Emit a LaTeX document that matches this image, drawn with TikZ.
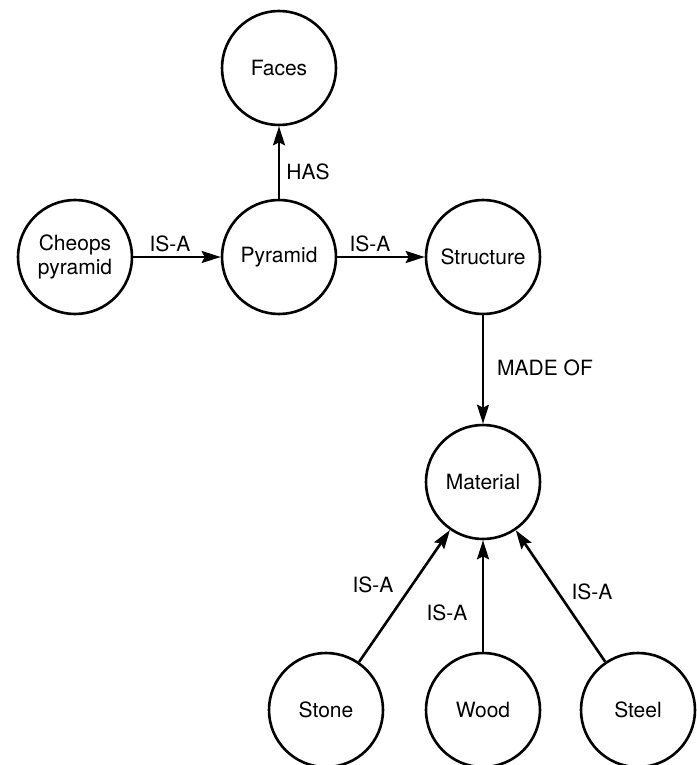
\documentclass[tikz,border=0pt]{standalone}
\usepackage{fontspec}
\setmainfont{TeX Gyre Heros}
\usetikzlibrary{arrows.meta}
\begin{document}
\begin{tikzpicture}[x=1pt,y=-1pt,
  concept/.style={draw, circle, line width=2.6pt, minimum size=114pt, inner sep=0pt,
    align=center, font=\fontsize{21}{24}\selectfont},
  rel/.style={line width=2.6pt, -{Stealth[length=19pt,width=12pt,inset=3pt]}},
  lbl/.style={font=\fontsize{21}{24}\selectfont, inner sep=0pt}]
  \useasboundingbox (0,0) rectangle (696,765);
  % concepts
  \node[concept] (faces)     at (279,68)  {Faces};
  \node[concept] (cheops)    at (75,257)  {Cheops\\pyramid};
  \node[concept] (pyramid)   at (279,257) {Pyramid};
  \node[concept] (structure) at (483,257) {Structure};
  \node[concept] (material)  at (483,482) {Material};
  \node[concept] (stone)     at (326,710) {Stone};
  \node[concept] (wood)      at (483,710) {Wood};
  \node[concept] (steel)     at (638,710) {Steel};
  % relations
  \draw[rel] (pyramid) -- (faces);
  \draw[rel] (cheops) -- (pyramid);
  \draw[rel] (pyramid) -- (structure);
  \draw[rel] (structure) -- (material);
  \draw[rel] (stone) -- (material);
  \draw[rel] (wood) -- (material);
  \draw[rel] (steel) -- (material);
  % relation labels
  \node[lbl] (lhas)   at (308,172) {HAS};
  \node[lbl] (lisa1)  at (170,244) {IS-A};
  \node[lbl] (lisa2)  at (370,244) {IS-A};
  \node[lbl] (lmade)  at (545,368) {MADE OF};
  \node[lbl] (lisa3)  at (373,585) {IS-A};
  \node[lbl] (lisa4)  at (447,613) {IS-A};
  \node[lbl] (lisa5)  at (592,592) {IS-A};
\end{tikzpicture}
\end{document}
